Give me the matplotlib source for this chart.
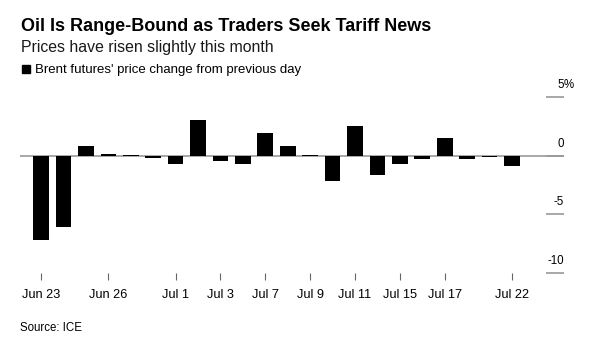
import numpy as np
import matplotlib
matplotlib.use("Agg")
import matplotlib.pyplot as plt
import matplotlib.transforms as mtransforms
from matplotlib.patches import Rectangle

plt.rcParams['font.family'] = ['Liberation Sans', 'DejaVu Sans']

# Brent daily % change, trading days Jun 23 - Jul 22
days = ['Jun 23', 'Jun 24', 'Jun 25', 'Jun 26', 'Jun 27', 'Jun 30',
        'Jul 1', 'Jul 2', 'Jul 3', 'Jul 4', 'Jul 7', 'Jul 8', 'Jul 9',
        'Jul 10', 'Jul 11', 'Jul 14', 'Jul 15', 'Jul 16', 'Jul 17',
        'Jul 18', 'Jul 21', 'Jul 22']
pct_change = [-7.18, -6.07, 0.82, 0.11, 0.08, -0.23,
              -0.71, 3.02, -0.42, -0.71, 1.92, 0.85, 0.06,
              -2.17, 2.54, -1.61, -0.71, -0.25, 1.50,
              -0.31, -0.08, -0.88]
tick_days = ['Jun 23', 'Jun 26', 'Jul 1', 'Jul 3', 'Jul 7', 'Jul 9',
             'Jul 11', 'Jul 15', 'Jul 17', 'Jul 22']
y_ticks = [5, 0, -5, -10]

W, H = 591, 346
fig = plt.figure(figsize=(W / 100, H / 100), dpi=100)
ax = fig.add_axes([20 / W, 1 - 273.3 / H, 544 / W, 176.6 / H])

x = np.arange(len(days))
ax.bar(x, pct_change, width=0.7, color='black', zorder=3)
ax.axhline(0, color='#999999', lw=1.2, zorder=2)

ax.set_xlim(-0.94, 23.32)
ax.set_ylim(-10, 5)

for s in ax.spines.values():
    s.set_visible(False)

# x ticks on selected days
ax.set_xticks([days.index(d) for d in tick_days])
ax.set_xticklabels(tick_days, fontsize=9.2)
ax.tick_params(axis='x', direction='out', length=5, width=0.8,
               color='#666666', pad=6)

# y ticks: short marks on the right, labels sitting above them
ax.yaxis.tick_right()
ax.set_yticks(y_ticks)
ax.set_yticklabels([])
ax.tick_params(axis='y', direction='in', length=13, width=1.2,
               color='#999999', pad=0)
blend = mtransforms.blended_transform_factory(ax.transAxes, ax.transData)
lab_tr = mtransforms.offset_copy(blend, fig=fig, y=6.5, units='points')
for v in y_ticks:
    ax.text(1.0, v, f'{v}', transform=lab_tr, ha='right', va='baseline',
            fontsize=8.3, color='black')
ax.text(1.0, 5, '%', transform=lab_tr, ha='left', va='baseline',
        fontsize=8.3, color='black')

# header and footer
fig.text(21 / W, 1 - 31 / H, 'Oil Is Range-Bound as Traders Seek Tariff News',
         fontsize=13, fontweight='bold', ha='left', va='baseline')
fig.text(21 / W, 1 - 52 / H, 'Prices have risen slightly this month',
         fontsize=11.4, ha='left', va='baseline', color='#1a1a1a')
fig.patches.append(Rectangle((22 / W, 1 - 73 / H), 8 / W, 8 / H,
                             transform=fig.transFigure, color='black'))
fig.text(35 / W, 1 - 73 / H, "Brent futures' price change from previous day",
         fontsize=9.5, ha='left', va='baseline')
fig.text(20 / W, 1 - 331 / H, 'Source: ICE', fontsize=8.3,
         ha='left', va='baseline')

fig.savefig('out.png', dpi=100, facecolor='white')
